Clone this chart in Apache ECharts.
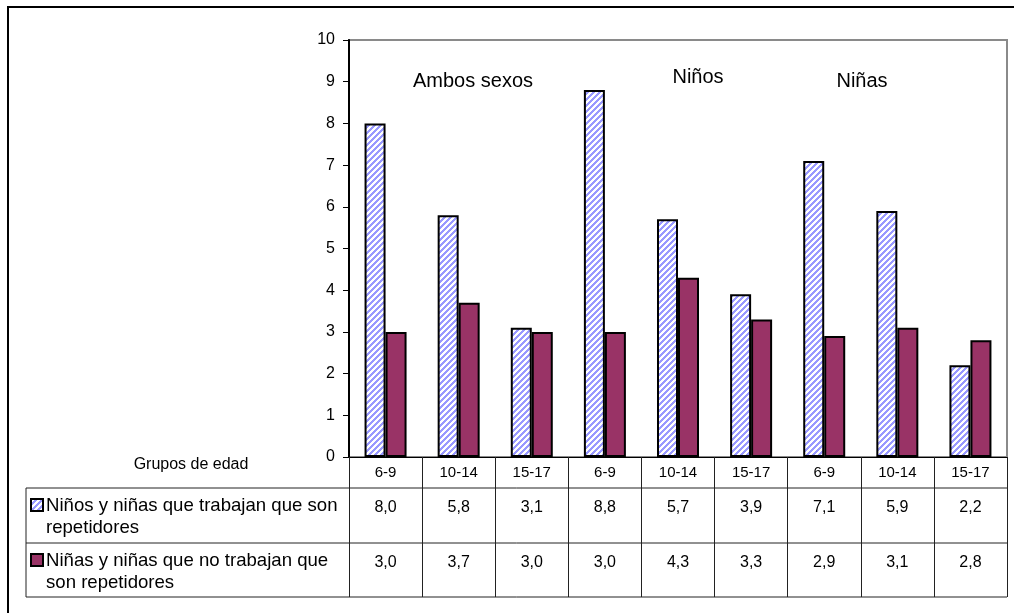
<!DOCTYPE html>
<html>
<head>
<meta charset="utf-8">
<script src="https://cdn.jsdelivr.net/npm/echarts@6/dist/echarts.min.js"></script>
<style>
  html, body { margin: 0; padding: 0; background: #fff; }
  #chart { width: 1014px; height: 613px; }
</style>
</head>
<body>
<div id="chart"></div>
<script>
// Age groups repeated for each sex block
const categories = ['6-9', '10-14', '15-17', '6-9', '10-14', '15-17', '6-9', '10-14', '15-17'];
// Percentage of repeaters among children who work
const trabajan = [8.0, 5.8, 3.1, 8.8, 5.7, 3.9, 7.1, 5.9, 2.2];
// Percentage of repeaters among children who do not work
const noTrabajan = [3.0, 3.7, 3.0, 3.0, 4.3, 3.3, 2.9, 3.1, 2.8];
const yTicks = [0, 1, 2, 3, 4, 5, 6, 7, 8, 9, 10];
const serieNames = [
  'Niños y niñas que trabajan que son repetidores',
  'Niñas y niñas que no trabajan que son repetidores'
];
const blockTitles = ['Ambos sexos', 'Niños', 'Niñas'];

const FONT = '"Liberation Sans", Arial, sans-serif';
const MAROON = '#993366';
const LAVENDER = '#9999ff';

// Diagonal lavender hatch tile
function hatchTile() {
  const c = document.createElement('canvas');
  c.width = 6; c.height = 6;
  const ctx = c.getContext('2d');
  ctx.fillStyle = '#ffffff';
  ctx.fillRect(0, 0, 6, 6);
  ctx.fillStyle = LAVENDER;
  for (let x = 0; x < 6; x++) {
    for (let y = 0; y < 6; y++) {
      if ((x + y) % 6 < 3) ctx.fillRect(x, y, 1, 1);
    }
  }
  return c;
}
const hatch = { image: hatchTile(), repeat: 'repeat' };

const fmt = v => v.toFixed(1).replace('.', ',');

const chart = echarts.init(document.getElementById('chart'), null, { renderer: 'canvas' });

const lineStyle = { stroke: '#222', lineWidth: 1 };
const tableLeft = 26, tableRight = 1007;
const rowY = [488, 543, 597];

function centeredText(text, x, y, size) {
  return {
    type: 'text', z: 5,
    style: { text, x, y, align: 'center', verticalAlign: 'middle', font: size + 'px ' + FONT, fill: '#000' }
  };
}

const graphics = [
  // outer frame (left and top edges)
  { type: 'polyline', shape: { points: [[8, 613], [8, 7], [1014, 7]] },
    style: { stroke: '#000', lineWidth: 2, fill: null }, z: 1 },
  // table row separators
  ...rowY.map(y => ({ type: 'line', shape: { x1: tableLeft, y1: y, x2: tableRight, y2: y }, style: lineStyle, z: 5 })),
  { type: 'line', shape: { x1: tableLeft, y1: rowY[0], x2: tableLeft, y2: rowY[2] }, style: lineStyle, z: 5 },
  // header cell text
  centeredText('Grupos de edad', 191, 465, 16),
  // legend keys
  { type: 'rect', shape: { x: 31, y: 499, width: 12, height: 12 },
    style: { fill: hatch, stroke: '#000', lineWidth: 2 }, z: 5 },
  { type: 'rect', shape: { x: 31, y: 554, width: 12, height: 12 },
    style: { fill: MAROON, stroke: '#000', lineWidth: 2 }, z: 5 },
  // legend labels
  { type: 'text', z: 5,
    style: { text: 'Niños y niñas que trabajan que son\nrepetidores', x: 46, y: 495,
             font: '18.6px ' + FONT, fill: '#000', lineHeight: 22 } },
  { type: 'text', z: 5,
    style: { text: 'Niñas y niñas que no trabajan que\nson repetidores', x: 46, y: 550,
             font: '18.6px ' + FONT, fill: '#000', lineHeight: 22 } },
  // block titles
  centeredText(blockTitles[0], 473, 81, 20),
  centeredText(blockTitles[1], 698, 77, 20),
  centeredText(blockTitles[2], 862, 81, 20)
];

chart.setOption({
  animation: false,
  backgroundColor: '#ffffff',
  textStyle: { fontFamily: FONT },
  grid: {
    left: 349, right: 7, top: 40, bottom: 156,
    show: true, borderColor: '#8a8a8a', borderWidth: 2, backgroundColor: 'transparent'
  },
  xAxis: {
    type: 'category',
    data: categories,
    boundaryGap: true,
    axisLine: { show: true, lineStyle: { color: '#000', width: 1 } },
    axisTick: { show: true, interval: 0, length: 140, lineStyle: { color: '#222', width: 1 } },
    axisLabel: {
      interval: 0,
      margin: 0,
      formatter: (v, i) => '{c|' + v + '}\n{a|' + fmt(trabajan[i]) + '}\n{b|' + fmt(noTrabajan[i]) + '}',
      rich: {
        c: { fontSize: 15, fontFamily: FONT, color: '#000', lineHeight: 31, height: 31 },
        a: { fontSize: 16, fontFamily: FONT, color: '#000', lineHeight: 40, height: 40 },
        b: { fontSize: 16, fontFamily: FONT, color: '#000', lineHeight: 70, height: 70 }
      }
    },
    splitLine: { show: false }
  },
  yAxis: {
    type: 'value',
    min: yTicks[0],
    max: yTicks[yTicks.length - 1],
    interval: 1,
    axisLine: { show: true, lineStyle: { color: '#000', width: 2 } },
    axisTick: { show: true, length: 6, lineStyle: { color: '#000', width: 1 } },
    axisLabel: { margin: 14, fontSize: 16, fontFamily: FONT, color: '#000' },
    splitLine: { show: false }
  },
  series: [
    {
      name: serieNames[0],
      type: 'bar',
      data: trabajan,
      barWidth: 21,
      barGap: '0%',
      itemStyle: { color: hatch, borderColor: '#000', borderWidth: 2 }
    },
    {
      name: serieNames[1],
      type: 'bar',
      data: noTrabajan,
      barWidth: 21,
      barGap: '0%',
      itemStyle: { color: MAROON, borderColor: '#000', borderWidth: 2 }
    }
  ],
  graphic: graphics
});
</script>
</body>
</html>
